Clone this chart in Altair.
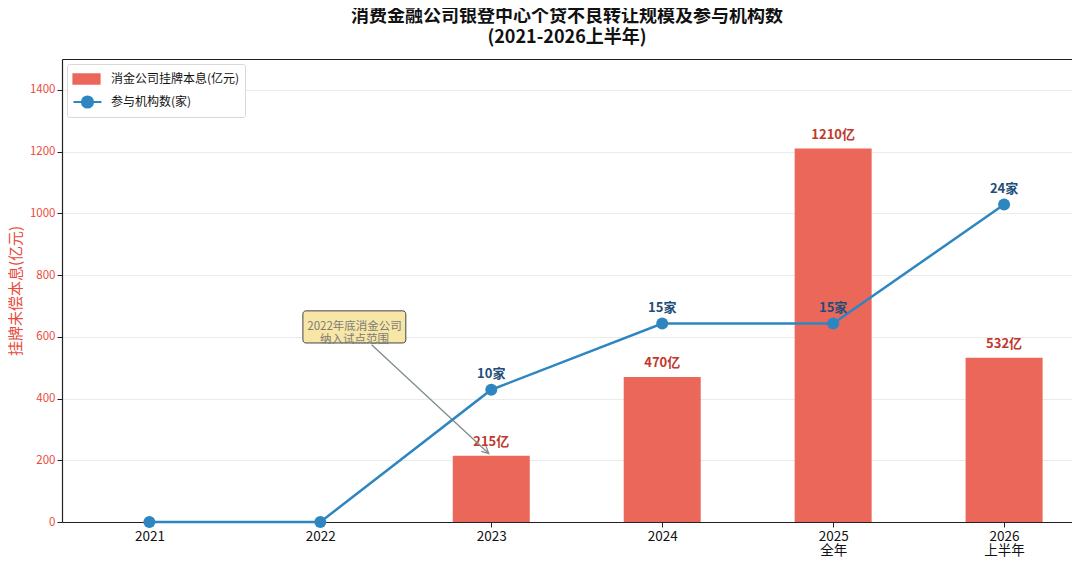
import altair as alt
import pandas as pd

# ---------------- data ----------------
years = ["2021", "2022", "2023", "2024", "2025", "2026"]
year_notes = ["", "", "", "", "全年", "上半年"]
amounts = [None, None, 215, 470, 1210, 532]          # 亿元
institutions = [0, 0, 10, 15, 15, 24]                # 家

bar_name = "消金公司挂牌本息(亿元)"
line_name = "参与机构数(家)"

note_lines = ["2022年底消金公司", "纳入试点范围"]
note_center = [1.2, 632]          # (x index, value on left axis)
note_box_x = [0.898, 1.5]
note_box_y = [580, 684]
arrow_from = [1.30, 574]
arrow_to = [1.985, 222]

FONT = "Noto Sans CJK SC"
RED = "#e74c3c"
BAR = "#eb6759"
BLUE = "#2e86c1"

# ---------------- tables ----------------
idx = list(range(len(years)))
bars_df = pd.DataFrame({
    "i": [i for i, a in zip(idx, amounts) if a is not None],
    "amount": [a for a in amounts if a is not None],
    "series": bar_name,
})
bars_df["label"] = bars_df["amount"].astype(int).astype(str) + "亿"

line_df = pd.DataFrame({"i": idx, "count": institutions, "series": line_name})
line_lab_df = line_df[line_df["count"] > 0].copy()
line_lab_df["label"] = line_lab_df["count"].astype(str) + "家"
legend_df = pd.DataFrame({"i": [0, 0], "count": [0, 0], "series": [bar_name, line_name]})

note_df = pd.DataFrame({
    "x": [note_center[0]], "y": [note_center[1]],
    "bx": [note_box_x[0]], "bx2": [note_box_x[1]],
    "by": [note_box_y[0]], "by2": [note_box_y[1]],
    "ax": [arrow_from[0]], "ay": [arrow_from[1]],
    "ax2": [arrow_to[0]], "ay2": [arrow_to[1]],
    "text": [note_lines],
})

label_arr = "[" + ",".join(
    "['" + y + "'" + (",'" + n + "'" if n else "") + "]" for y, n in zip(years, year_notes)
) + "]"

xscale = alt.Scale(domain=[-0.482, 5.368], nice=False, zero=False)
xaxis = alt.Axis(values=idx, labelExpr=label_arr + "[datum.value]", title=None, grid=False,
                 labelColor="#111", labelFontSize=13.5, labelLineHeight=14, domainColor="#222",
                 tickColor="#222", labelPadding=2, tickSize=5, labelFont=FONT)
xaxis_top = alt.Axis(orient="top", labels=False, ticks=False, title=None, grid=False,
                     domainColor="#222", domainWidth=1.2)
yscale = alt.Scale(domain=[0, 1500], nice=False)
yaxis = alt.Axis(values=list(range(0, 1401, 200)), format="d", title="挂牌未偿本息(亿元)",
                 titleColor=RED, titleFontSize=15, titleFontWeight="normal", labelColor=RED,
                 labelFontSize=11.5, grid=True, gridColor="#ebebeb", domainColor="#222",
                 domainWidth=1.2, tickColor="#222", titlePadding=6, labelPadding=2, tickSize=5)
y2scale = alt.Scale(domain=[0, 35], nice=False)

BAR_PATH = "M-1,-0.55H2.06V0.55H-1Z"
LINE_PATH = ("M-1,0H0M1.29,0H2.29M1.29,0A0.645,0.645 0 1,1 0,0"
             "A0.645,0.645 0 1,1 1.29,0")

legend = alt.Legend(title=None, orient="top-left", offset=5, labelFontSize=12, labelFont=FONT,
                    labelColor="#111", strokeColor="#d8d8d8", fillColor="white", padding=5,
                    cornerRadius=2, symbolSize=289, rowPadding=3, labelOffset=19,
                    symbolStrokeWidth=2.2, symbolOpacity=1)
color = alt.Color("series:N",
                  scale=alt.Scale(domain=[bar_name, line_name], range=[BAR, BLUE]),
                  legend=legend)
shape = alt.Shape("series:N",
                  scale=alt.Scale(domain=[bar_name, line_name], range=[BAR_PATH, LINE_PATH]),
                  legend=legend)

X = lambda f="i": alt.X(f + ":Q", scale=xscale, axis=xaxis)
XT = lambda f="i": alt.X(f + ":Q", scale=xscale, axis=xaxis_top)

bars = alt.Chart(bars_df).mark_bar(size=77).encode(
    x=X(), y=alt.Y("amount:Q", scale=yscale, axis=yaxis), color=color)
bar_text = alt.Chart(bars_df).mark_text(dy=-14, fontWeight="bold", fontSize=13, color="#c0392b",
                                        font=FONT).encode(
    x=X(), y=alt.Y("amount:Q", scale=yscale), text="label:N")

box = alt.Chart(note_df).mark_rect(fill="#f8e6a6", stroke="#444", strokeWidth=1,
                                   cornerRadius=3).encode(
    x=alt.X("bx:Q", scale=xscale, axis=xaxis), x2="bx2:Q",
    y=alt.Y("by:Q", scale=yscale), y2="by2:Q")
box_text = alt.Chart(note_df).mark_text(fontSize=11.5, color="#7a7a7a", font=FONT,
                                        lineHeight=13.5).encode(
    x=alt.X("x:Q", scale=xscale, axis=xaxis), y=alt.Y("y:Q", scale=yscale), text="text")
arrow = alt.Chart(note_df).mark_rule(color="#7f8c8d", strokeWidth=1.3).encode(
    x=alt.X("ax:Q", scale=xscale, axis=xaxis), x2="ax2:Q",
    y=alt.Y("ay:Q", scale=yscale), y2="ay2:Q")
arrow_head = alt.Chart(note_df).mark_point(shape="M-1,2L0,0L1,2", filled=False, size=49,
                                           angle=133, color="#7f8c8d", strokeWidth=1.3,
                                           opacity=1).encode(
    x=alt.X("ax2:Q", scale=xscale, axis=xaxis), y=alt.Y("ay2:Q", scale=yscale))

left = alt.layer(bars, bar_text, arrow, arrow_head, box, box_text)

line = alt.Chart(line_df).mark_line(strokeWidth=2.5,
                                    point=alt.OverlayMarkDef(size=144, filled=True, opacity=1)).encode(
    x=XT(), y=alt.Y("count:Q", scale=y2scale, axis=None), color=color)
legend_pts = alt.Chart(legend_df).mark_point(opacity=0, filled=True).encode(
    x=XT(), y=alt.Y("count:Q", scale=y2scale, axis=None), color=color, shape=shape)
line_text = alt.Chart(line_lab_df).mark_text(dy=-16, fontWeight="bold", fontSize=13,
                                             color="#1f4e79", font=FONT).encode(
    x=XT(), y=alt.Y("count:Q", scale=y2scale, axis=None), text="label:N")

right = alt.layer(line, legend_pts, line_text)

chart = alt.layer(left, right).resolve_scale(y="independent").resolve_axis(
    x="independent").properties(
    width=1064, height=549,
    autosize=alt.AutoSizeParams(type="fit", contains="padding"),
    padding={"left": 0, "top": 0, "right": 0, "bottom": 0},
    title=alt.TitleParams(
        text=["消费金融公司银登中心个贷不良转让规模及参与机构数", "(2021-2026上半年)"],
        fontSize=18, fontWeight="bold", font=FONT, color="#111", lineHeight=21,
        anchor="middle", frame="group", offset=11, dy=-1),
).configure(font=FONT).configure_view(stroke=None)

chart.save("out.html", embed_options={"renderer": "svg", "actions": False})
